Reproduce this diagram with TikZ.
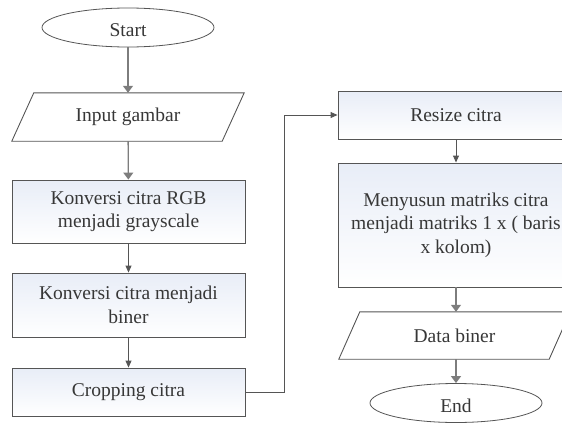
\documentclass[tikz,border=0pt]{standalone}
\usepackage{fontspec}
\setmainfont{Liberation Serif}
\usetikzlibrary{arrows.meta,shapes.geometric}
\definecolor{edge}{RGB}{85,85,85}
\definecolor{softedge}{RGB}{125,125,125}
\definecolor{ink}{RGB}{55,55,55}
\definecolor{boxtint}{RGB}{232,237,247}
\tikzset{
  x=1pt, y=-1pt,
  every node/.style={font=\fontsize{19.5}{23.5}\selectfont, text=ink, align=center},
  procbox/.style={draw=edge, line width=0.9pt, top color=boxtint, bottom color=white,
    minimum width=233pt, inner sep=0pt},
  iobox/.style={draw=none, minimum width=232pt, minimum height=48pt, inner sep=0pt},
  termbox/.style={ellipse, draw=edge, line width=0.8pt, fill=white,
    minimum width=172pt, minimum height=39pt, inner sep=0pt},
  termtext/.style={yshift=-3pt},
  flow/.style={draw=edge, line width=0.9pt, -{Triangle[length=7pt,width=6pt]}},
  softflow/.style={draw=softedge, line width=1.3pt, -{Triangle[length=7pt,width=10pt]}},
  ioedge/.style={draw=edge, line width=0.9pt},
}
\begin{document}
\begin{tikzpicture}
\useasboundingbox (0,0) rectangle (562,423);
\clip (0,0) rectangle (562,423);

% left column
\node[termbox] (start) at (128,27.5) {};
\node[termtext] (starttext) at (start.center) {Start};
\node[iobox] (input) at (128,117) {Input gambar};
\draw[ioedge] ([xshift=22pt]input.north west) -- (input.north east)
  -- ([xshift=-22pt]input.south east) -- (input.south west) -- cycle;
\node[procbox, minimum height=63pt] (gray) at (128.5,211.5) {Konversi citra RGB\\menjadi grayscale};
\node[procbox, minimum height=64pt] (biner) at (128.5,305) {Konversi citra menjadi\\biner};
\node[procbox, minimum height=48pt] (crop) at (128.5,392) {Cropping citra};

% right column
\node[procbox, minimum width=236pt, minimum height=48pt] (resize) at (456,115) {Resize citra};
\node[procbox, minimum width=236pt, minimum height=124pt] (matrix) at (456,225) {Menyusun matriks citra\\menjadi matriks 1 x ( baris\\x kolom)};
\node[iobox, minimum width=231pt, minimum height=47pt] (data) at (454.5,335.5) {Data biner};
\draw[ioedge] ([xshift=21pt]data.north west) -- (data.north east)
  -- ([xshift=-21pt]data.south east) -- (data.south west) -- cycle;
\node[termbox] (end) at (456,403) {};
\node[termtext] (endtext) at (end.center) {End};

% connectors
\draw[softflow] (start) -- (input);
\draw[softflow] (input) -- (gray);
\draw[flow] (gray) -- (biner);
\draw[flow] (biner) -- (crop);
\coordinate (bend) at (284,0);
\draw[flow] (crop.east) -| (bend |- resize.west) -- (resize.west);
\draw[flow] (resize) -- (matrix);
\draw[softflow] (matrix.south -| end.north) -- (data.north -| end.north);
\draw[softflow] (data.south -| end.north) -- (end);
\end{tikzpicture}
\end{document}
